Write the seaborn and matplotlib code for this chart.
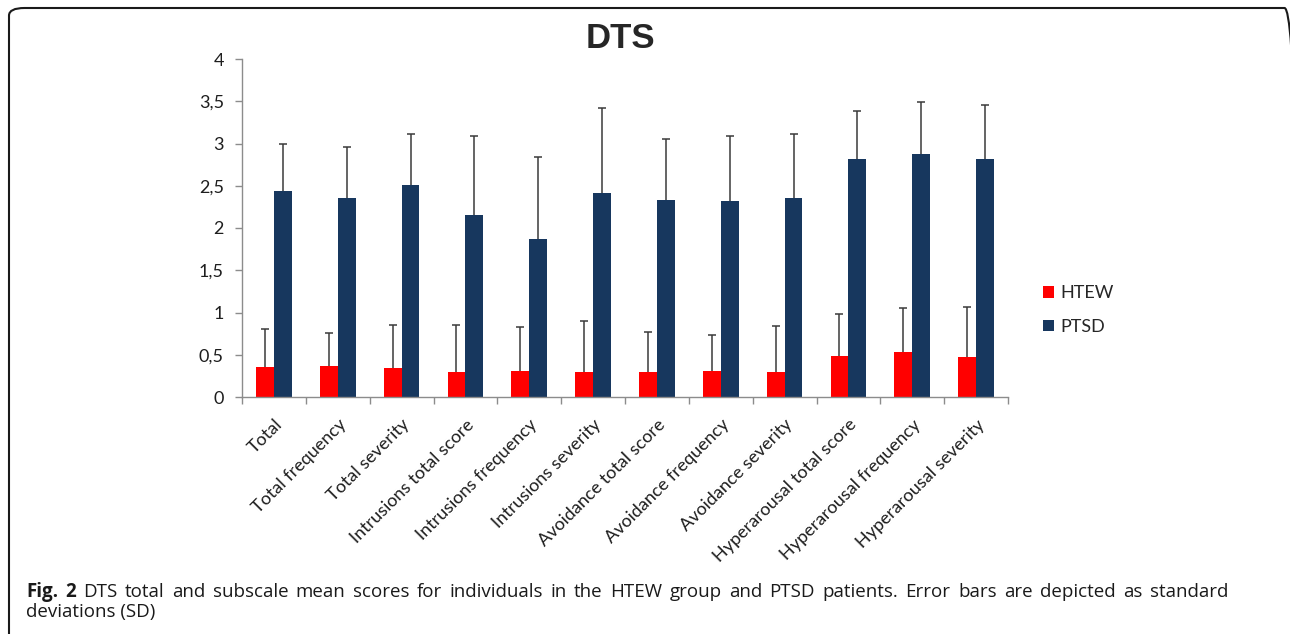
import numpy as np
import pandas as pd
import matplotlib
matplotlib.use("Agg")
import matplotlib.pyplot as plt
import seaborn as sns
from matplotlib.patches import FancyBboxPatch

# DTS subscales
categories = [
    "Total", "Total frequency", "Total severity",
    "Intrusions total score", "Intrusions frequency", "Intrusions severity",
    "Avoidance total score", "Avoidance frequency", "Avoidance severity",
    "Hyperarousal total score", "Hyperarousal frequency", "Hyperarousal severity",
]
groups = ["HTEW", "PTSD"]

htew_mean = [0.355, 0.37, 0.345, 0.30, 0.31, 0.30, 0.30, 0.31, 0.29, 0.485, 0.53, 0.475]
htew_sd = [0.45, 0.39, 0.51, 0.55, 0.52, 0.595, 0.47, 0.42, 0.545, 0.50, 0.52, 0.595]
ptsd_mean = [2.44, 2.36, 2.505, 2.155, 1.875, 2.415, 2.335, 2.325, 2.36, 2.815, 2.88, 2.815]
ptsd_sd = [0.555, 0.60, 0.605, 0.935, 0.97, 1.0, 0.72, 0.76, 0.75, 0.575, 0.61, 0.635]

yticks = [0, 0.5, 1, 1.5, 2, 2.5, 3, 3.5, 4]
ytick_labels = ["0", "0,5", "1", "1,5", "2", "2,5", "3", "3,5", "4"]

colors = {"HTEW": "#FF0000", "PTSD": "#17375E"}

df = pd.DataFrame({
    "measure": categories * 2,
    "group": ["HTEW"] * len(categories) + ["PTSD"] * len(categories),
    "mean": htew_mean + ptsd_mean,
})

sns.set_style("white")
plt.rcParams["font.family"] = ["Lato", "DejaVu Sans"]

W, H = 1290, 634
fig = plt.figure(figsize=(W / 100, H / 100), dpi=100)
ax = fig.add_axes([242 / W, 1 - 397 / H, (1008 - 242) / W, (397 - 59) / H])

sns.barplot(data=df, x="measure", y="mean", hue="group", order=categories,
            hue_order=groups, palette=colors, width=0.56, gap=0,
            linewidth=0, saturation=1, errorbar=None, ax=ax)

# upper-only standard deviation bars (lower caps hidden)
for container, sds in zip(ax.containers, [htew_sd, ptsd_sd]):
    xs = [b.get_x() + b.get_width() / 2 for b in container]
    ys = [b.get_height() for b in container]
    _, caps, _ = ax.errorbar(xs, ys, yerr=[np.zeros(len(sds)), sds], fmt="none",
                             ecolor="#3A3A3A", elinewidth=1.1, capsize=3,
                             capthick=1.1, zorder=3)
    caps[0].set_visible(False)

ax.set_ylim(0, 4)
ax.set_xlim(-0.5, len(categories) - 0.5)
ax.set_yticks(yticks)
ax.set_yticklabels(ytick_labels, fontsize=13, color="#1E1E1E")
ax.set_xticks(range(len(categories)))
ax.set_xticklabels(categories, rotation=45, ha="right", va="top",
                   rotation_mode="anchor", fontsize=13, color="#1E1E1E")
ax.set_xticks(np.arange(-0.5, len(categories)), minor=True)
ax.tick_params(axis="x", which="major", length=0, pad=14)
ax.tick_params(axis="x", which="minor", length=5, width=1, color="#8C8C8C",
               direction="out", bottom=True)
ax.tick_params(axis="y", length=5, width=1, color="#8C8C8C", pad=8,
               direction="out", left=True)
ax.set_xlabel("")
ax.set_ylabel("")
for side in ("top", "right"):
    ax.spines[side].set_visible(False)
for side in ("left", "bottom"):
    ax.spines[side].set_color("#8C8C8C")
    ax.spines[side].set_linewidth(1)

sns.move_legend(ax, "center left", bbox_to_anchor=(1034 / W, 1 - 310 / H),
                bbox_transform=fig.transFigure, title=None, frameon=False,
                fontsize=13, handlelength=0.58, handleheight=0.58,
                handletextpad=0.4, labelspacing=0.95, borderpad=0)

fig.text(620 / W, 1 - 38 / H, "DTS", ha="center", va="center",
         fontsize=25, fontweight="bold", family="Liberation Sans")

# caption, first line justified between the margins
renderer = fig.canvas.get_renderer()
cap_size = 13.5
line1 = ("Fig. 2 DTS total and subscale mean scores for individuals in the HTEW "
         "group and PTSD patients. Error bars are depicted as standard").split()
line2 = "deviations (SD)"
x_left, x_right = 26, 1228
base1, base2 = 597, 617

texts = []
for i, word in enumerate(line1):
    t = fig.text(0, 1 - base1 / H, word, ha="left", va="baseline",
                 fontsize=cap_size, family="Open Sans", color="#1A1A1A",
                 fontweight="bold" if i < 2 else "normal")
    texts.append(t)
widths = [t.get_window_extent(renderer).width for t in texts]
gap = (x_right - x_left - sum(widths)) / (len(texts) - 1)
x = x_left
for t, w in zip(texts, widths):
    t.set_x(x / W)
    x += w + gap
fig.text(x_left / W, 1 - base2 / H, line2, ha="left", va="baseline",
         fontsize=cap_size, family="Open Sans", color="#1A1A1A")

# rounded frame around the figure panel
frame = FancyBboxPatch((9 / W, -10 / H), (1300 - 9) / W, (H - 8 + 10) / H,
                       boxstyle="round,pad=0,rounding_size=0.012",
                       transform=fig.transFigure, fill=False,
                       edgecolor="#1A1A1A", linewidth=1.5, clip_on=False)
fig.patches.append(frame)

fig.savefig("out.png", dpi=100)
